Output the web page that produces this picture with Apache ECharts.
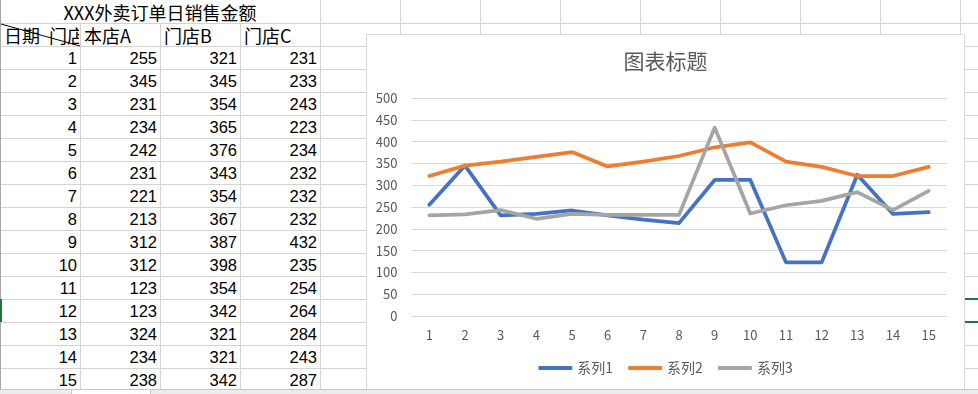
<!DOCTYPE html>
<html><head><meta charset="utf-8">
<script src="https://cdn.jsdelivr.net/npm/echarts@6/dist/echarts.min.js"></script>
<style>
html,body{margin:0;padding:0;width:978px;height:394px;overflow:hidden;background:#fff;}
.ln{position:absolute;background:#d4d4d4;}
.cell{position:absolute;height:22px;line-height:22px;color:#000;white-space:pre;overflow:hidden;}
.num{font-family:"Liberation Sans","Noto Sans CJK SC",sans-serif;font-size:16.5px;text-align:right;}
.txt{font-family:"Noto Sans CJK SC",sans-serif;font-size:18px;}
#chartBox{position:absolute;left:366px;top:34px;width:599px;height:370px;border:1px solid #d9d9d9;box-sizing:border-box;background:#fff;}
#chart{width:597px;height:368px;}
</style>
</head><body>
<div id="sheet"></div>
<div id="chartBox"><div id="chart"></div></div>
<div id="bottom"></div>
<script>
// ---- data ----
const sheetTitle = 'XXX外卖订单日销售金额';
const headerCells = ['日期 门店', '本店A', '门店B', '门店C'];
const days = [1,2,3,4,5,6,7,8,9,10,11,12,13,14,15];
const storeA = [255,345,231,234,242,231,221,213,312,312,123,123,324,234,238];
const storeB = [321,345,354,365,376,343,354,367,387,398,354,342,321,321,342];
const storeC = [231,233,243,223,234,232,232,232,432,235,254,264,284,243,287];
const seriesNames = ['系列1','系列2','系列3'];
const chartTitle = '图表标题';

// ---- spreadsheet ----
const sheet = document.getElementById('sheet');
function add(parent, cls, css, text){
  const d = document.createElement('div');
  d.className = cls; d.style.cssText = css;
  if (text !== undefined) d.textContent = text;
  parent.appendChild(d); return d;
}
const colW = 80, rowH = 23;
for (let k = 0; k <= 15; k++) {
  add(sheet, 'ln', `left:0;top:${23 + k*rowH}px;width:978px;height:1px;`);
}
for (let x = 80; x <= 960; x += colW) {
  const top = x < 320 ? 23 : 0;
  add(sheet, 'ln', `left:${x}px;top:${top}px;width:1px;height:${394-top}px;`);
}
add(sheet, 'ln', 'left:0;top:0;width:1px;height:394px;background:#a6a6a6;');
add(sheet, 'cell txt', 'left:0;top:1px;width:320px;text-align:center;', sheetTitle);
headerCells.forEach((t, i) => {
  add(sheet, 'cell txt', `left:${i*colW + 4}px;top:24px;width:${colW-5}px;word-spacing:5px;`, t);
});
sheet.insertAdjacentHTML('beforeend',
  '<svg style="position:absolute;left:0;top:0" width="100" height="50"><line x1="1" y1="24" x2="80" y2="46" stroke="#000" stroke-width="1"/></svg>');
const cols = [days, storeA, storeB, storeC];
days.forEach((d, r) => {
  cols.forEach((arr, c) => {
    add(sheet, 'cell num', `left:${c*colW + 1}px;top:${47 + r*rowH}px;width:${colW-4}px;`, String(arr[r]));
  });
});
add(sheet, 'ln', 'left:965px;top:298px;width:13px;height:2px;background:#217346;');
add(sheet, 'ln', 'left:965px;top:321px;width:13px;height:2px;background:#217346;');
add(sheet, 'ln', 'left:0;top:299px;width:2px;height:23px;background:#217346;');
const bottom = document.getElementById('bottom');
add(bottom, 'ln', 'left:0;top:389px;width:978px;height:5px;background:#ececec;border-top:1px solid #c6c6c6;box-sizing:border-box;z-index:5;');
add(bottom, 'ln', 'left:71px;top:390px;width:80px;height:4px;background:#fff;border-left:1px solid #c6c6c6;border-right:1px solid #c6c6c6;box-sizing:border-box;z-index:6;');

// ---- chart ----
const FONT = '"Noto Sans CJK SC", sans-serif';
const colors = ['#4472C4', '#ED7D31', '#A5A5A5'];
const chart = echarts.init(document.getElementById('chart'), null, {renderer: 'canvas'});
const values = [storeA, storeB, storeC];
chart.setOption({
  animation: false,
  color: colors,
  textStyle: {fontFamily: FONT},
  title: {
    text: chartTitle, left: 'center', top: 11,
    textStyle: {fontFamily: FONT, fontSize: 21, fontWeight: 'normal', color: '#595959'}
  },
  legend: {
    top: 321, left: 'center', icon: 'roundRect', itemWidth: 34, itemHeight: 4, itemGap: 15,
    textStyle: {fontFamily: FONT, fontSize: 14, color: '#595959'}
  },
  grid: {left: 44.5, top: 63, width: 535, height: 218, containLabel: false},
  xAxis: {
    type: 'category', data: days, boundaryGap: true,
    axisLine: {lineStyle: {color: '#d9d9d9'}}, axisTick: {show: false},
    axisLabel: {color: '#595959', fontSize: 13, margin: 13, fontFamily: FONT}
  },
  yAxis: {
    type: 'value', min: 0, max: 500, interval: 50,
    axisLine: {show: false}, axisTick: {show: false},
    axisLabel: {color: '#595959', fontSize: 13, margin: 14, fontFamily: FONT},
    splitLine: {lineStyle: {color: '#d9d9d9', width: 1}}
  },
  series: values.map((v, i) => ({
    name: seriesNames[i], type: 'line', data: v, symbol: 'none', showSymbol: false,
    lineStyle: {width: 3.75, color: colors[i], cap: 'round', join: 'round'},
    itemStyle: {color: colors[i]}
  }))
});
</script>
</body></html>
